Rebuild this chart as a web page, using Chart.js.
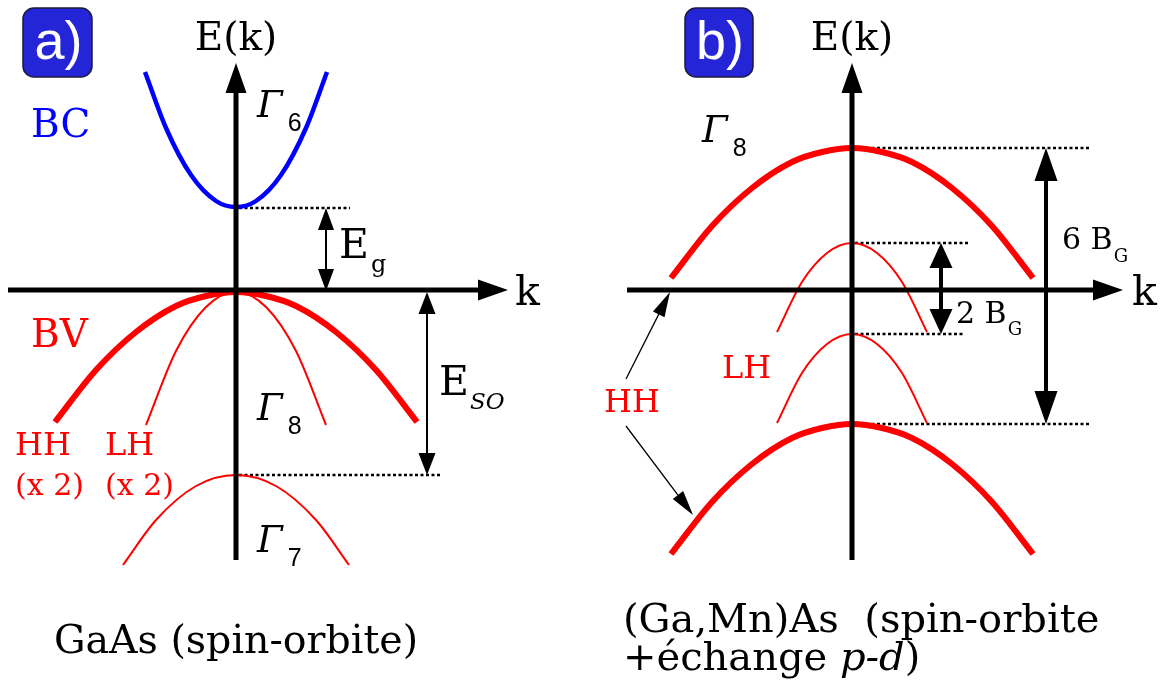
<!DOCTYPE html>
<html>
<head>
<meta charset="utf-8">
<script src="https://cdn.jsdelivr.net/npm/chart.js@4.4.0/dist/chart.umd.min.js"></script>
<style>
  html, body { margin: 0; padding: 0; background: #fff; }
  #wrap { position: relative; width: 1163px; height: 693px; }
  canvas { position: absolute; top: 0; }
</style>
</head>
<body>
<div id="wrap">
  <canvas id="panelA" width="580" height="693" style="left:0"></canvas>
  <canvas id="panelB" width="583" height="693" style="left:580px"></canvas>
</div>
<script>
// --- a) GaAs : bandes (k, E) en unites arbitraires ---
var aBcK = [-0.91, -0.7, -0.45, -0.2, 0, 0.2, 0.45, 0.7, 0.91];
var aBcE = [2.18, 1.62, 1.15, 0.89, 0.83, 0.89, 1.15, 1.62, 2.18];
var aHhK = [-1.81, -1.4, -1.0, -0.6, -0.3, 0, 0.3, 0.6, 1.0, 1.4, 1.81];
var aHhE = [-1.32, -0.80, -0.42, -0.16, -0.06, -0.02, -0.06, -0.16, -0.42, -0.80, -1.32];
var aLhK = [-0.90, -0.6, -0.3, 0, 0.3, 0.6, 0.90];
var aLhE = [-1.35, -0.61, -0.17, -0.02, -0.17, -0.61, -1.35];
var aSoK = [-1.13, -0.8, -0.4, 0, 0.4, 0.8, 1.13];
var aSoE = [-2.75, -2.30, -1.96, -1.85, -1.96, -2.30, -2.75];
var aCbMin = 0.82, aVbMax = 0, aSoMax = -1.85;

// --- b) (Ga,Mn)As : bandes separees par l'echange p-d ---
var bHhK = [-1.81, -1.4, -1.0, -0.6, -0.3, 0, 0.3, 0.6, 1.0, 1.4, 1.81];
var bHh1E = [0.12, 0.64, 1.02, 1.28, 1.38, 1.42, 1.38, 1.28, 1.02, 0.64, 0.12];
var bHh2E = [-2.64, -2.12, -1.74, -1.48, -1.38, -1.34, -1.38, -1.48, -1.74, -2.12, -2.64];
var bLhK = [-0.75, -0.5, -0.25, 0, 0.25, 0.5, 0.75];
var bLh1E = [-0.42, 0.08, 0.37, 0.47, 0.37, 0.08, -0.42];
var bLh2E = [-1.33, -0.83, -0.54, -0.44, -0.54, -0.83, -1.33];
var bHh1Max = 1.42, bLh1Max = 0.47, bLh2Max = -0.44, bHh2Max = -1.34;

var RED = '#ff0000', BLUE = '#0000ff', TAG = '#2525d8';
var SERIF = '"DejaVu Serif", "Liberation Serif", serif';
var SANS = '"Liberation Sans", Arial, sans-serif';

function pts(ks, es) {
    return ks.map(function (k, i) { return {x: k, y: es[i]}; });
}

function band(ks, es, color, width) {
    return {data: pts(ks, es), showLine: true, borderColor: color, borderWidth: width,
        pointRadius: 0, cubicInterpolationMode: 'monotone', fill: false};
}

function level(e, kEnd) {
    return {data: [{x: 0.03, y: e}, {x: kEnd, y: e}], showLine: true, borderColor: '#000',
        borderWidth: 2.6, borderDash: [3, 2.5], pointRadius: 0, fill: false};
}

function head(ctx, x, y, ux, uy, len, wid) {
    var bx = x - ux * len, by = y - uy * len;
    ctx.beginPath();
    ctx.moveTo(x, y);
    ctx.lineTo(bx - uy * wid / 2, by + ux * wid / 2);
    ctx.lineTo(bx + uy * wid / 2, by - ux * wid / 2);
    ctx.closePath();
    ctx.fill();
}

function arrow(ctx, x1, y1, x2, y2, a) {
    var dx = x2 - x1, dy = y2 - y1, n = Math.hypot(dx, dy);
    var ux = dx / n, uy = dy / n;
    var s = a.both ? a.len * 0.7 : 0;
    ctx.lineWidth = a.lw;
    ctx.beginPath();
    ctx.moveTo(x1 + ux * s, y1 + uy * s);
    ctx.lineTo(x2 - ux * a.len * 0.7, y2 - uy * a.len * 0.7);
    ctx.stroke();
    head(ctx, x2, y2, ux, uy, a.len, a.wid);
    if (a.both) head(ctx, x1, y1, -ux, -uy, a.len, a.wid);
}

// axes, fleches, etiquettes : tout passe par les echelles du graphique
var decor = {
    id: 'decor',
    afterDatasetsDraw: function (chart, args, o) {
        var ctx = chart.ctx, sx = chart.scales.x, sy = chart.scales.y;
        var X = function (k) { return sx.getPixelForValue(k); };
        var Y = function (e) { return sy.getPixelForValue(e); };
        ctx.save();
        ctx.fillStyle = '#000';
        ctx.strokeStyle = '#000';
        ctx.lineCap = 'butt';

        // axes E(k) et k
        var ax = {lw: 5, len: 30, wid: 21};
        arrow(ctx, X(0), Y(o.axes.e0), X(0), Y(o.axes.e1), ax);
        arrow(ctx, X(o.axes.k0), Y(0), X(o.axes.k1), Y(0), ax);

        o.arrows.forEach(function (a) {
            arrow(ctx, X(a.k0), Y(a.e0), X(a.k1), Y(a.e1), a);
        });

        // pastille a) / b)
        var t = o.tag, x0 = X(t.k0), y0 = Y(t.e0), w = X(t.k1) - x0, h = Y(t.e1) - y0;
        ctx.beginPath();
        ctx.roundRect(x0, y0, w, h, 11);
        ctx.fillStyle = TAG;
        ctx.fill();
        ctx.lineWidth = 1.5;
        ctx.strokeStyle = '#1a1a40';
        ctx.stroke();
        ctx.fillStyle = '#fff';
        ctx.font = '54px ' + SANS;
        ctx.textAlign = 'center';
        ctx.textBaseline = 'middle';
        ctx.fillText(t.text, x0 + w / 2 + 1, y0 + h / 2 + 2);

        // etiquettes : suite de morceaux (indices, italiques) sur une ligne
        ctx.textBaseline = 'alphabetic';
        o.labels.forEach(function (l) {
            var parts = l.parts || [{t: l.t, f: l.f}];
            var x = X(l.k), y = Y(l.e);
            if (l.align === 'center') {
                var wTot = 0;
                parts.forEach(function (p) { ctx.font = p.f; wTot += ctx.measureText(p.t).width + (p.gap || 0); });
                x -= wTot / 2;
            }
            ctx.textAlign = 'left';
            ctx.fillStyle = l.c || '#000';
            parts.forEach(function (p) {
                ctx.font = p.f;
                x += p.gap || 0;
                ctx.fillText(p.t, x, y + (p.dy || 0));
                x += ctx.measureText(p.t).width;
            });
        });
        ctx.restore();
    }
};

function makePanel(id, kMin, kMax, datasets, decorOpts) {
    var ctx = document.getElementById(id).getContext('2d');
    return new Chart(ctx, {
        type: 'scatter',
        data: {datasets: datasets},
        options: {
            responsive: false,
            animation: false,
            layout: {padding: 0},
            scales: {
                x: {type: 'linear', min: kMin, max: kMax, display: false},
                y: {type: 'linear', min: -4.03, max: 2.90, display: false}
            },
            plugins: {
                legend: {display: false},
                tooltip: {enabled: false},
                decor: decorOpts
            }
        },
        plugins: [decor]
    });
}

var F = function (size, style) { return (style ? style + ' ' : '') + size + 'px ' + SERIF; };
var S = function (size) { return size + 'px ' + SANS; };

// Gamma italique + indice chiffre
function gamma(k, e, digit) {
    return {k: k, e: e, parts: [{t: 'Γ', f: F(37, 'italic')}, {t: digit, f: S(25), dy: 14, gap: 5}]};
}

makePanel('panelA', -2.36, 3.44, [
    band(aBcK, aBcE, BLUE, 4.5),
    band(aHhK, aHhE, RED, 6),
    band(aLhK, aLhE, RED, 2),
    band(aSoK, aSoE, RED, 2),
    level(aCbMin, 1.14),
    level(aSoMax, 2.04)
], {
    axes: {k0: -2.28, k1: 2.72, e0: -2.70, e1: 2.27},
    tag: {text: 'a)', k0: -2.13, k1: -1.44, e0: 2.82, e1: 2.13},
    arrows: [
        {k0: 0.90, e0: aCbMin, k1: 0.90, e1: aVbMax - 0.01, lw: 2, len: 22, wid: 16, both: true},
        {k0: 1.91, e0: aVbMax - 0.02, k1: 1.91, e1: aSoMax, lw: 2, len: 22, wid: 17, both: true}
    ],
    labels: [
        {k: 0, e: 2.40, t: 'E(k)', f: F(39), align: 'center'},
        {k: 2.79, e: -0.15, t: 'k', f: F(41)},
        {k: -2.05, e: 1.53, t: 'BC', f: F(39), c: BLUE},
        {k: -2.05, e: -0.57, t: 'BV', f: F(39), c: RED},
        gamma(0.21, 1.73, '6'),
        gamma(0.21, -1.30, '8'),
        gamma(0.21, -2.62, '7'),
        {k: 1.03, e: 0.32, parts: [{t: 'E', f: F(41)}, {t: 'g', f: F(24), dy: 14, gap: 2}]},
        {k: 2.03, e: -1.05, parts: [{t: 'E', f: F(41)}, {t: 'SO', f: F(23, 'italic'), dy: 14, gap: 1}]},
        {k: -2.21, e: -1.65, t: 'HH', f: F(32), c: RED},
        {k: -2.21, e: -2.05, t: '(x 2)', f: F(30), c: RED},
        {k: -1.31, e: -1.65, t: 'LH', f: F(32), c: RED},
        {k: -1.31, e: -2.05, t: '(x 2)', f: F(30), c: RED},
        {k: 0, e: -3.63, t: 'GaAs (spin-orbite)', f: F(39.5), align: 'center'}
    ]
});

makePanel('panelB', -2.72, 3.11, [
    band(bHhK, bHh1E, RED, 6),
    band(bLhK, bLh1E, RED, 2),
    band(bLhK, bLh2E, RED, 2),
    band(bHhK, bHh2E, RED, 6),
    level(bHh1Max, 2.38),
    level(bLh1Max, 1.16),
    level(bLh2Max, 1.13),
    level(bHh2Max, 2.38)
], {
    axes: {k0: -2.25, k1: 2.71, e0: -2.70, e1: 2.27},
    tag: {text: 'b)', k0: -1.67, k1: -0.99, e0: 2.82, e1: 2.13},
    arrows: [
        {k0: 0.89, e0: bLh1Max, k1: 0.89, e1: bLh2Max, lw: 4, len: 25, wid: 23, both: true},
        {k0: 1.94, e0: bHh1Max, k1: 1.94, e1: bHh2Max, lw: 4, len: 33, wid: 23, both: true},
        {k0: -2.26, e0: -0.89, k1: -1.82, e1: -0.02, lw: 1.3, len: 25, wid: 13},
        {k0: -2.26, e0: -1.36, k1: -1.59, e1: -2.25, lw: 1.3, len: 25, wid: 13}
    ],
    labels: [
        {k: 0, e: 2.40, t: 'E(k)', f: F(39), align: 'center'},
        {k: 2.80, e: -0.15, t: 'k', f: F(41)},
        gamma(-1.50, 1.48, '8'),
        {k: 2.10, e: 0.41, parts: [{t: '6 B', f: F(30)}, {t: 'G', f: F(18), dy: 13, gap: 1}]},
        {k: 1.04, e: -0.33, parts: [{t: '2 B', f: F(30)}, {t: 'G', f: F(18), dy: 12, gap: 1}]},
        {k: -1.30, e: -0.88, t: 'LH', f: F(32), c: RED},
        {k: -2.48, e: -1.22, t: 'HH', f: F(32), c: RED},
        {k: -2.29, e: -3.42, t: '(Ga,Mn)As  (spin-orbite', f: F(40)},
        {k: -2.29, e: -3.80, parts: [{t: '+échange ', f: F(40)}, {t: 'p-d', f: F(40, 'italic')}, {t: ')', f: F(40)}]}
    ]
});
</script>
</body>
</html>
